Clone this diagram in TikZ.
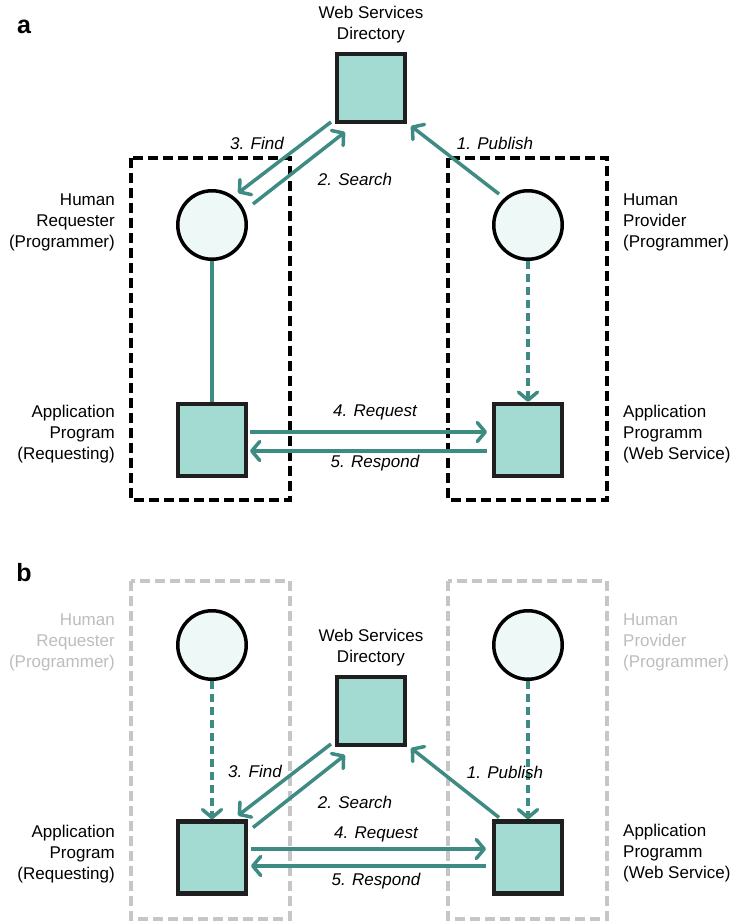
\documentclass[tikz,border=0pt]{standalone}
\usepackage{fontspec}
\setmainfont{Liberation Sans}
\usetikzlibrary{arrows.meta}

\definecolor{flowteal}{HTML}{3D8B82}
\definecolor{boxfill}{HTML}{A3DBD3}
\definecolor{headfill}{HTML}{EEF8F6}
\definecolor{fadegray}{HTML}{C6C6C6}
\definecolor{fadetext}{HTML}{BDBDBD}

\tikzset{
  prog/.style={rectangle, draw=black!88, line width=4.3pt, fill=boxfill,
    minimum width=68pt, minimum height=72pt, inner sep=0pt},
  dirbox/.style={prog, minimum height=68pt},
  person/.style={circle, draw=black, line width=3.5pt, fill=headfill,
    minimum size=68.5pt, inner sep=0pt},
  flow/.style={draw=flowteal, line width=3.5pt,
    -{Straight Barb[length=8pt,width=19pt,round]}},
  dflow/.style={flow, dash pattern=on 8pt off 5pt},
  link/.style={draw=flowteal, line width=3.5pt},
  group/.style={draw=black, line width=3.5pt, dash pattern=on 10pt off 5pt},
  fadegroup/.style={group, draw=fadegray},
  lbl/.style={font=\fontsize{17}{21}\selectfont, inner sep=0pt},
  steplbl/.style={font=\fontsize{17}{21}\selectfont\itshape, inner sep=0pt},
  panel/.style={font=\fontsize{25}{25}\selectfont\bfseries, inner sep=0pt},
}

\begin{document}
\begin{tikzpicture}[x=1pt, y=-1pt]
\useasboundingbox (0,0) rectangle (736,922);

% ---------------- panel a ----------------
\node[panel] (pa) at (24,27) {a};

\draw[group] (131,158) rectangle (290,500);
\draw[group] (448,158) rectangle (607,500);

\node[dirbox] (dirA) at (371,88) {};
\node[lbl, align=center, anchor=south] (dirAlbl) at (371,43) {Web Services\\Directory};

\node[person] (hrA) at (212,225) {};
\node[person] (hpA) at (528,225) {};
\node[prog] (apA) at (212,440) {};
\node[prog] (wsA) at (528,440) {};

\node[lbl, align=right, anchor=east] (hrAlbl) at (115,222) {Human\\Requester\\(Programmer)};
\node[lbl, align=left, anchor=west] (hpAlbl) at (623,222) {Human\\Provider\\(Programmer)};
\node[lbl, align=right, anchor=east] (apAlbl) at (115,434) {Application\\Program\\(Requesting)};
\node[lbl, align=left, anchor=west] (wsAlbl) at (623,434) {Application\\Programm\\(Web Service)};

\draw[link] (hrA.south) -- (apA.north);
\draw[dflow] (hpA.south) -- (wsA.north);

\draw[flow] ([shift={(-40,34)}]dirA.center) -- ([shift={(26,-32)}]hrA.center);
\draw[flow] ([shift={(41,-21)}]hrA.center) -- ([shift={(-26,44)}]dirA.center);
\draw[flow] ([shift={(-29,-31)}]hpA.center) -- ([shift={(40,38)}]dirA.center);
\draw[flow] ([shift={(38,-8)}]apA.center) -- ([shift={(-41,-8)}]wsA.center);
\draw[flow] ([shift={(-41,11)}]wsA.center) -- ([shift={(38,11)}]apA.center);

\node[steplbl] (findA) at (257,143) {3. Find};
\node[steplbl] (searchA) at (355,179) {2. Search};
\node[steplbl] (pubA) at (495,143) {1. Publish};
\node[steplbl] (reqA) at (375,412) {4. Request};
\node[steplbl] (resA) at (375,463) {5. Respond};

% ---------------- panel b ----------------
\node[panel] (pb) at (24,573) {b};

\draw[fadegroup] (131,581) rectangle (290,919);
\draw[fadegroup] (448,581) rectangle (607,919);

\node[dirbox] (dirB) at (371,711) {};
\node[lbl, align=center, anchor=south] (dirBlbl) at (371,666) {Web Services\\Directory};

\node[person] (hrB) at (212,645) {};
\node[person] (hpB) at (528,645) {};
\node[prog] (apB) at (212,857.5) {};
\node[prog] (wsB) at (528,857.5) {};

\node[lbl, text=fadetext, align=right, anchor=east] (hrBlbl) at (115,642) {Human\\Requester\\(Programmer)};
\node[lbl, text=fadetext, align=left, anchor=west] (hpBlbl) at (623,642) {Human\\Provider\\(Programmer)};
\node[lbl, align=right, anchor=east] (apBlbl) at (115,854) {Application\\Program\\(Requesting)};
\node[lbl, align=left, anchor=west] (wsBlbl) at (623,853) {Application\\Programm\\(Web Service)};

\draw[dflow] (hrB.south) -- (apB.north);
\draw[dflow] (hpB.south) -- (wsB.north);

\draw[flow] ([shift={(-40,33)}]dirB.center) -- ([shift={(26,-42)}]apB.center);
\draw[flow] ([shift={(41,-30)}]apB.center) -- ([shift={(-26,44)}]dirB.center);
\draw[flow] ([shift={(-29,-40)}]wsB.center) -- ([shift={(40,37)}]dirB.center);
\draw[flow] ([shift={(39,-8.5)}]apB.center) -- ([shift={(-42,-8.5)}]wsB.center);
\draw[flow] ([shift={(-42,8.5)}]wsB.center) -- ([shift={(39,8.5)}]apB.center);

\node[steplbl] (findB) at (255,771) {3. Find};
\node[steplbl] (searchB) at (355,802) {2. Search};
\node[steplbl] (pubB) at (505,772) {1. Publish};
\node[steplbl] (reqB) at (376,834) {4. Request};
\node[steplbl] (resB) at (376,881) {5. Respond};
\end{tikzpicture}
\end{document}
